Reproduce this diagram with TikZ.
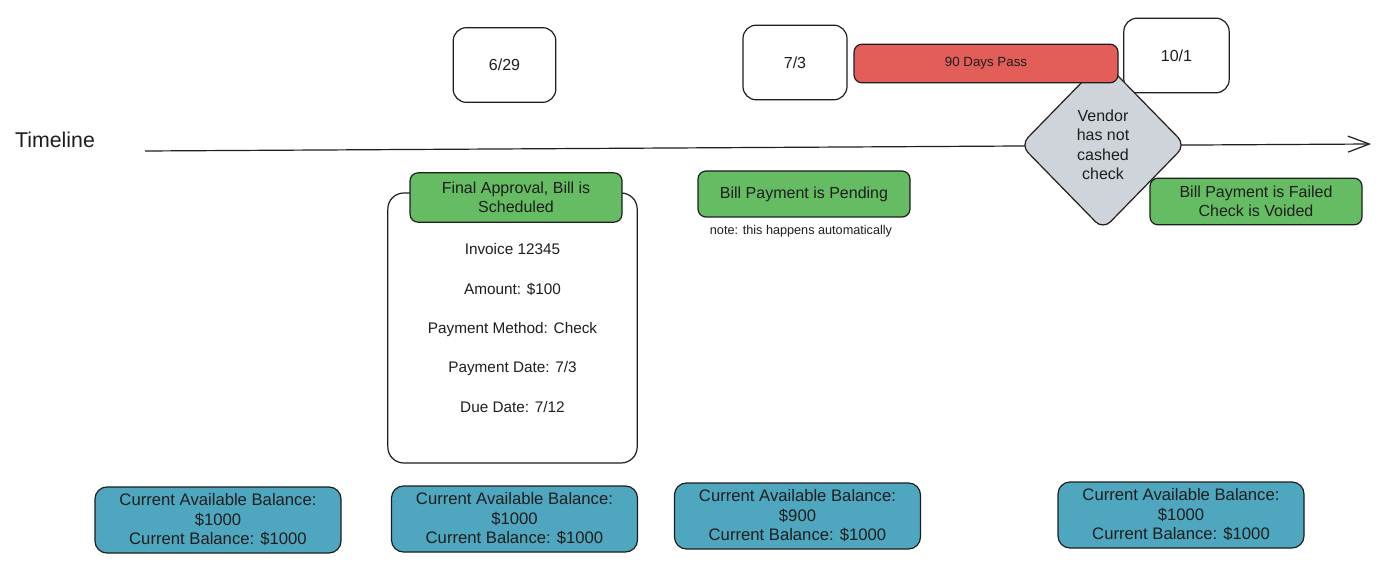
\documentclass[tikz,border=0pt]{standalone}
\usepackage{fontspec}
\setmainfont{Liberation Sans}
\usetikzlibrary{shapes.geometric,arrows.meta}
\definecolor{ink}{HTML}{1E1E1E}
\definecolor{okgreen}{HTML}{66BC62}
\definecolor{passred}{HTML}{E35E59}
\definecolor{balblue}{HTML}{4FA7BF}
\definecolor{checkgray}{HTML}{CED4DA}

\begin{document}
\begin{tikzpicture}[x=0.75pt,y=-0.75pt]
	\tikzstyle{every node}+=[inner sep=0pt, text=ink, align=center]
	\tikzstyle{datebox}=[draw=ink, line width=0.9pt, rounded corners=10pt, fill=white, minimum height=56pt, font=\fontsize{12}{14}\selectfont]
	\tikzstyle{greenbox}=[draw=ink, line width=0.9pt, rounded corners=6pt, fill=okgreen, minimum width=159pt, font=\fontsize{12}{14}\selectfont]
	\tikzstyle{balbox}=[draw=ink, line width=0.9pt, rounded corners=9pt, fill=balblue, minimum width=184.5pt, minimum height=49.5pt, font=\fontsize{12.5}{14.6}\selectfont]
	\fill [white] (0,0) rectangle (1400,581);
	\useasboundingbox (0,0) rectangle (1400,581);
	\node (tllabel) at (55,140) {\fontsize{16}{18}\selectfont Timeline};
	\coordinate (tlstart) at (145,151);
	\coordinate (tlend) at (1371,144);
	\draw [ink, line width=0.9pt, -{Straight Barb[length=16pt,width=12pt]}] (tlstart) -- (tlend);
	\node [draw=ink, line width=0.9pt, rounded corners=12pt, fill=white, minimum width=187pt, minimum height=202.5pt] (invbox) at (512.5,328) {};
	\node [font=\fontsize{11.5}{29.6}\selectfont] (invtext) at (512.5,328) {Invoice 12345\\Amount: \$100\\Payment Method: Check\\Payment Date: 7/3\\Due Date: 7/12};
	\node [greenbox, minimum height=37pt] (final) at (516,197.5) {Final Approval, Bill is\\Scheduled};
	\node [datebox, minimum width=77pt] (d629) at (504.5,65) {6/29};
	\node [datebox, minimum width=78pt] (d73) at (795,62.5) {7/3};
	\node [datebox, minimum width=79pt] (d101) at (1176.5,55.5) {10/1};
	\node [diamond, aspect=0.976, draw=ink, line width=0.9pt, rounded corners=8pt, fill=checkgray, minimum width=124pt, minimum height=127pt, font=\fontsize{12}{14.6}\selectfont] (check) at (1103,145) {Vendor\\has not\\cashed\\check};
	\node [draw=ink, line width=0.9pt, rounded corners=6pt, fill=passred, minimum width=198pt, minimum height=29pt, font=\fontsize{10}{12}\selectfont] (pass) at (986,63.5) {90 Days Pass};
	\node [greenbox, minimum height=34.5pt] (pending) at (804,194) {Bill Payment is Pending};
	\node [font=\fontsize{9.5}{11}\selectfont] (note) at (801,231) {note: this happens automatically};
	\node [greenbox, minimum height=35pt] (failed) at (1256,201.5) {Bill Payment is Failed\\Check is Voided};
	\node [balbox] (bal1) at (218,520) {Current Available Balance:\\\$1000\\Current Balance: \$1000};
	\node [balbox] (bal2) at (514.5,519) {Current Available Balance:\\\$1000\\Current Balance: \$1000};
	\node [balbox] (bal3) at (797.5,516) {Current Available Balance:\\\$900\\Current Balance: \$1000};
	\node [balbox] (bal4) at (1181,515) {Current Available Balance:\\\$1000\\Current Balance: \$1000};
\end{tikzpicture}
\end{document}
